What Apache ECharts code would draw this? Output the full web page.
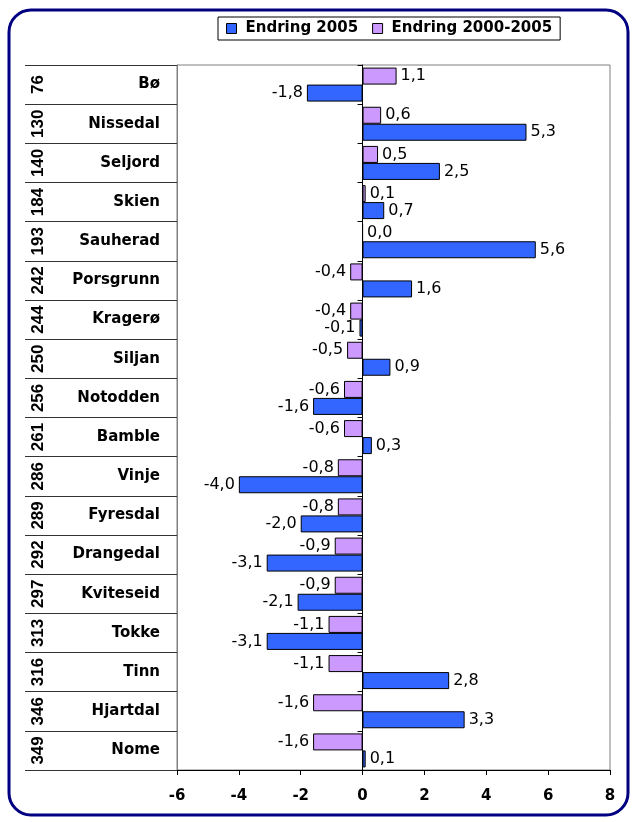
<!DOCTYPE html>
<html>
<head>
<meta charset="utf-8">
<script src="https://cdn.jsdelivr.net/npm/echarts@6/dist/echarts.min.js"></script>
<style>
  html, body { margin: 0; padding: 0; background: #fff; }
  #chart { width: 632px; height: 822px; }
</style>
</head>
<body>
<div id="chart"></div>
<script>
// kommuner, ovenfra og ned
const kommuner = ['Bø', 'Nissedal', 'Seljord', 'Skien', 'Sauherad', 'Porsgrunn', 'Kragerø', 'Siljan', 'Notodden',
  'Bamble', 'Vinje', 'Fyresdal', 'Drangedal', 'Kviteseid', 'Tokke', 'Tinn', 'Hjartdal', 'Nome'];
const rangering = ['76', '130', '140', '184', '193', '242', '244', '250', '256',
  '261', '286', '289', '292', '297', '313', '316', '346', '349'];
const endring2005 = [-1.8, 5.3, 2.5, 0.7, 5.6, 1.6, -0.1, 0.9, -1.6, 0.3, -4.0, -2.0, -3.1, -2.1, -3.1, 2.8, 3.3, 0.1];
const endring2000_2005 = [1.1, 0.6, 0.5, 0.1, 0.0, -0.4, -0.4, -0.5, -0.6, -0.6, -0.8, -0.8, -0.9, -0.9, -1.1, -1.1, -1.6, -1.6];
const xTicks = [-6, -4, -2, 0, 2, 4, 6, 8];

const FONT = '"DejaVu Sans", Verdana, sans-serif';
const fmt = v => v.toFixed(1).replace('.', ',');

// label på riktig side av stolpen
const withLabels = arr => arr.map(v => ({
  value: v,
  label: { position: v < 0 ? 'left' : 'right' }
}));

const chart = echarts.init(document.getElementById('chart'));

const catAxis = {
  type: 'category',
  data: kommuner,
  inverse: true,
  gridIndex: 0
};

const option = {
  animation: false,
  textStyle: { fontFamily: FONT },
  graphic: [{
    type: 'rect',
    shape: { x: 9, y: 10, width: 619, height: 805, r: 22 },
    style: { fill: 'none', stroke: '#000080', lineWidth: 3 },
    silent: true
  }],
  legend: {
    left: 218,
    top: 17,
    data: ['Endring 2005', 'Endring 2000-2005'],
    borderColor: '#000',
    borderWidth: 1,
    padding: [4, 8],
    itemWidth: 10,
    itemHeight: 10,
    itemGap: 14,
    icon: 'rect',
    itemStyle: { borderColor: '#000', borderWidth: 1 },
    textStyle: { fontFamily: FONT, fontSize: 15, fontWeight: 'bold', color: '#000', padding: [0, 0, 0, 4] }
  },
  grid: {
    left: 177, right: 22, top: 65, bottom: 52,
    show: true, borderColor: '#808080', borderWidth: 1
  },
  xAxis: {
    type: 'value',
    min: -6, max: 8, interval: 2,
    splitLine: { show: false },
    axisLine: { show: true, onZero: false, lineStyle: { color: '#000', width: 1 } },
    axisTick: { show: true, length: 5, lineStyle: { color: '#000' } },
    axisLabel: {
      margin: 19, fontFamily: FONT, fontSize: 15, fontWeight: 'bold', color: '#000',
      formatter: v => xTicks.includes(v) ? String(v) : ''
    }
  },
  yAxis: [
    Object.assign({}, catAxis, {
      position: 'left',
      axisLine: { show: true, onZero: false, lineStyle: { color: '#808080' } },
      axisTick: { show: true, length: 152, lineStyle: { color: '#333' } },
      axisLabel: { margin: 17, fontFamily: FONT, fontSize: 15, fontWeight: 'bold', color: '#000' }
    }),
    Object.assign({}, catAxis, {
      position: 'left',
      axisLine: { show: true, onZero: true, onZeroAxisIndex: 0, lineStyle: { color: '#000', width: 1 } },
      axisTick: { show: true, length: 5, lineStyle: { color: '#000' } },
      axisLabel: { show: false }
    }),
    Object.assign({}, catAxis, {
      data: rangering,
      position: 'left',
      offset: 128,
      axisLine: { show: false, onZero: false },
      axisTick: { show: false },
      axisLabel: {
        rotate: 90, margin: 2, fontFamily: 'Arial, "Liberation Sans", sans-serif',
        fontSize: 17, fontWeight: 'bold', color: '#000'
      }
    })
  ],
  series: [
    {
      name: 'Endring 2000-2005',
      type: 'bar',
      barWidth: 17,
      barGap: '0%',
      data: withLabels(endring2000_2005),
      itemStyle: { color: '#CC99FF', borderColor: '#000', borderWidth: 1 },
      label: { show: true, distance: 4, fontFamily: FONT, fontSize: 16, color: '#000', formatter: p => fmt(p.value) }
    },
    {
      name: 'Endring 2005',
      type: 'bar',
      barWidth: 17,
      barGap: '0%',
      data: withLabels(endring2005),
      itemStyle: { color: '#3366FF', borderColor: '#000', borderWidth: 1 },
      label: { show: true, distance: 4, fontFamily: FONT, fontSize: 16, color: '#000', formatter: p => fmt(p.value) }
    }
  ]
};

chart.setOption(option);
</script>
</body>
</html>
